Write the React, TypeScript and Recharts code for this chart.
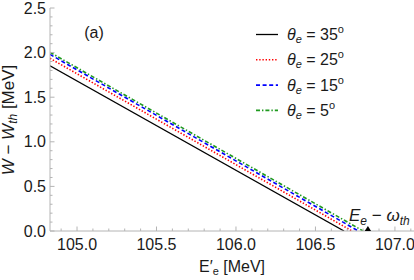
import React from 'react';
import { LineChart, Line, XAxis, YAxis, ReferenceDot } from 'recharts';

// x range of the plot and the threshold energy E_e - omega_th
const xDomain = [104.83, 107.12];
const thresholdE = 106.83;

// W - W_th vs E'_e, straight lines from the left edge down to zero
const theta35 = [
  { e: 104.83, w: 1.853 },
  { e: 106.68, w: 0 },
];
const theta25 = [
  { e: 104.83, w: 1.936 },
  { e: 106.73, w: 0 },
];
const theta15 = [
  { e: 104.83, w: 1.98 },
  { e: 106.77, w: 0 },
];
const theta5 = [
  { e: 104.83, w: 2.003 },
  { e: 106.8, w: 0 },
];

const xTicks = [
  104.9, 105.0, 105.1, 105.2, 105.3, 105.4, 105.5, 105.6, 105.7, 105.8, 105.9, 106.0,
  106.1, 106.2, 106.3, 106.4, 106.5, 106.6, 106.7, 106.8, 106.9, 107.0, 107.1,
];
const xMajor = [105.0, 105.5, 106.0, 106.5, 107.0];
const yTicks = [
  0, 0.1, 0.2, 0.3, 0.4, 0.5, 0.6, 0.7, 0.8, 0.9, 1.0, 1.1, 1.2, 1.3, 1.4, 1.5, 1.6,
  1.7, 1.8, 1.9, 2.0, 2.1, 2.2, 2.3, 2.4, 2.5,
];
const yMajor = [0, 0.5, 1.0, 1.5, 2.0, 2.5];

const legendAngles = ['35', '25', '15', '5'];

const FONT = '"Liberation Sans", Arial, sans-serif';
const AXIS = '#b4b4b4';
const LABEL = '#1a1a1a';

const series = [
  { data: theta35, color: '#000000', dash: undefined, width: 1.3 },
  { data: theta25, color: '#ff0000', dash: '1.4 1.8', width: 1.6 },
  { data: theta15, color: '#0000ff', dash: '4 2.6', width: 1.6 },
  { data: theta5, color: '#1f9a1f', dash: '4 2 1.4 2', width: 1.6 },
];

const isIn = (arr: number[], v: number) => arr.some((m) => Math.abs(m - v) < 1e-6);

const XTick = (props: any) => {
  const { x, y, payload } = props;
  const major = isIn(xMajor, payload.value);
  return (
    <g>
      <line x1={x} x2={x} y1={y} y2={y - (major ? 4.5 : 2.5)} stroke={AXIS} />
      {major && (
        <text x={x} y={y + 19} textAnchor="middle" fontSize={16} fontFamily={FONT} fill={LABEL}>
          {payload.value.toFixed(1)}
        </text>
      )}
    </g>
  );
};

const YTick = (props: any) => {
  const { x, y, payload } = props;
  const major = isIn(yMajor, payload.value);
  return (
    <g>
      <line x1={x} x2={x + (major ? 4.5 : 2.5)} y1={y} y2={y} stroke={AXIS} />
      {major && (
        <text x={x - 4} y={y + 5.5} textAnchor="end" fontSize={16} fontFamily={FONT} fill={LABEL}>
          {payload.value.toFixed(1)}
        </text>
      )}
    </g>
  );
};

const Triangle = (props: any) => {
  const { cx, cy } = props;
  return <path d={`M${cx} ${cy - 5} L${cx + 3.2} ${cy} L${cx - 3.2} ${cy} Z`} fill="#000" />;
};

export default function App() {
  return (
    <div style={{ position: 'absolute', left: 0, top: 0, width: 414, height: 280, background: '#fff' }}>
      <LineChart width={414} height={280} margin={{ top: 8, right: 0, bottom: 0, left: 0 }}>
        <XAxis
          type="number"
          dataKey="e"
          domain={xDomain}
          ticks={xTicks}
          interval={0}
          allowDataOverflow
          height={49}
          stroke={AXIS}
          tickSize={0}
          tickMargin={0}
          tick={<XTick />}
        />
        <YAxis
          type="number"
          dataKey="w"
          domain={[0, 2.5]}
          ticks={yTicks}
          interval={0}
          allowDataOverflow
          width={50}
          stroke={AXIS}
          tickSize={0}
          tickMargin={0}
          tick={<YTick />}
        />
        {series.map((s, i) => (
          <Line
            key={i}
            data={s.data}
            dataKey="w"
            type="linear"
            stroke={s.color}
            strokeWidth={s.width}
            strokeDasharray={s.dash}
            dot={false}
            activeDot={false}
            isAnimationActive={false}
          />
        ))}
        <ReferenceDot x={thresholdE} y={0} r={3} shape={<Triangle />} ifOverflow="visible" />
      </LineChart>

      <svg
        width={414}
        height={280}
        style={{ position: 'absolute', left: 0, top: 0, pointerEvents: 'none' }}
        fontFamily={FONT}
        fill={LABEL}
      >
        <text x={94} y={38} fontSize={16} textAnchor="middle">(a)</text>

        {/* legend */}
        {series.map((s, i) => {
          const y = 34.5 + i * 25.3;
          return (
            <g key={i}>
              <line x1={256} x2={278} y1={y} y2={y} stroke={s.color} strokeWidth={s.width} strokeDasharray={s.dash} />
              <text x={287} y={y + 5.5} fontSize={16}>
                <tspan fontStyle="italic">θ</tspan>
                <tspan fontSize={11} fontStyle="italic" dy={3}>e</tspan>
                <tspan dy={-3}>{' = ' + legendAngles[i]}</tspan>
                <tspan fontSize={11} dy={-7}>o</tspan>
              </text>
            </g>
          );
        })}

        {/* threshold annotation */}
        <text x={349} y={221} fontSize={17}>
          <tspan fontStyle="italic">E</tspan>
          <tspan fontSize={12} fontStyle="italic" dy={3.5}>e</tspan>
          <tspan dy={-3.5}>{' − '}</tspan>
          <tspan fontStyle="italic">ω</tspan>
          <tspan fontSize={12} fontStyle="italic" dy={3.5}>th</tspan>
        </text>

        {/* axis titles */}
        <text x={232} y={272} fontSize={16} textAnchor="middle">
          <tspan>E′</tspan>
          <tspan fontSize={11} dy={2.5}>e</tspan>
          <tspan dy={-2.5}>{' [MeV]'}</tspan>
        </text>
        <text transform="translate(13.5,120) rotate(-90)" fontSize={17} textAnchor="middle">
          <tspan fontStyle="italic">W</tspan>
          <tspan>{' − '}</tspan>
          <tspan fontStyle="italic">W</tspan>
          <tspan fontSize={12} fontStyle="italic" dy={3.5}>th</tspan>
          <tspan dy={-3.5}>{' [MeV]'}</tspan>
        </text>
      </svg>
    </div>
  );
}
